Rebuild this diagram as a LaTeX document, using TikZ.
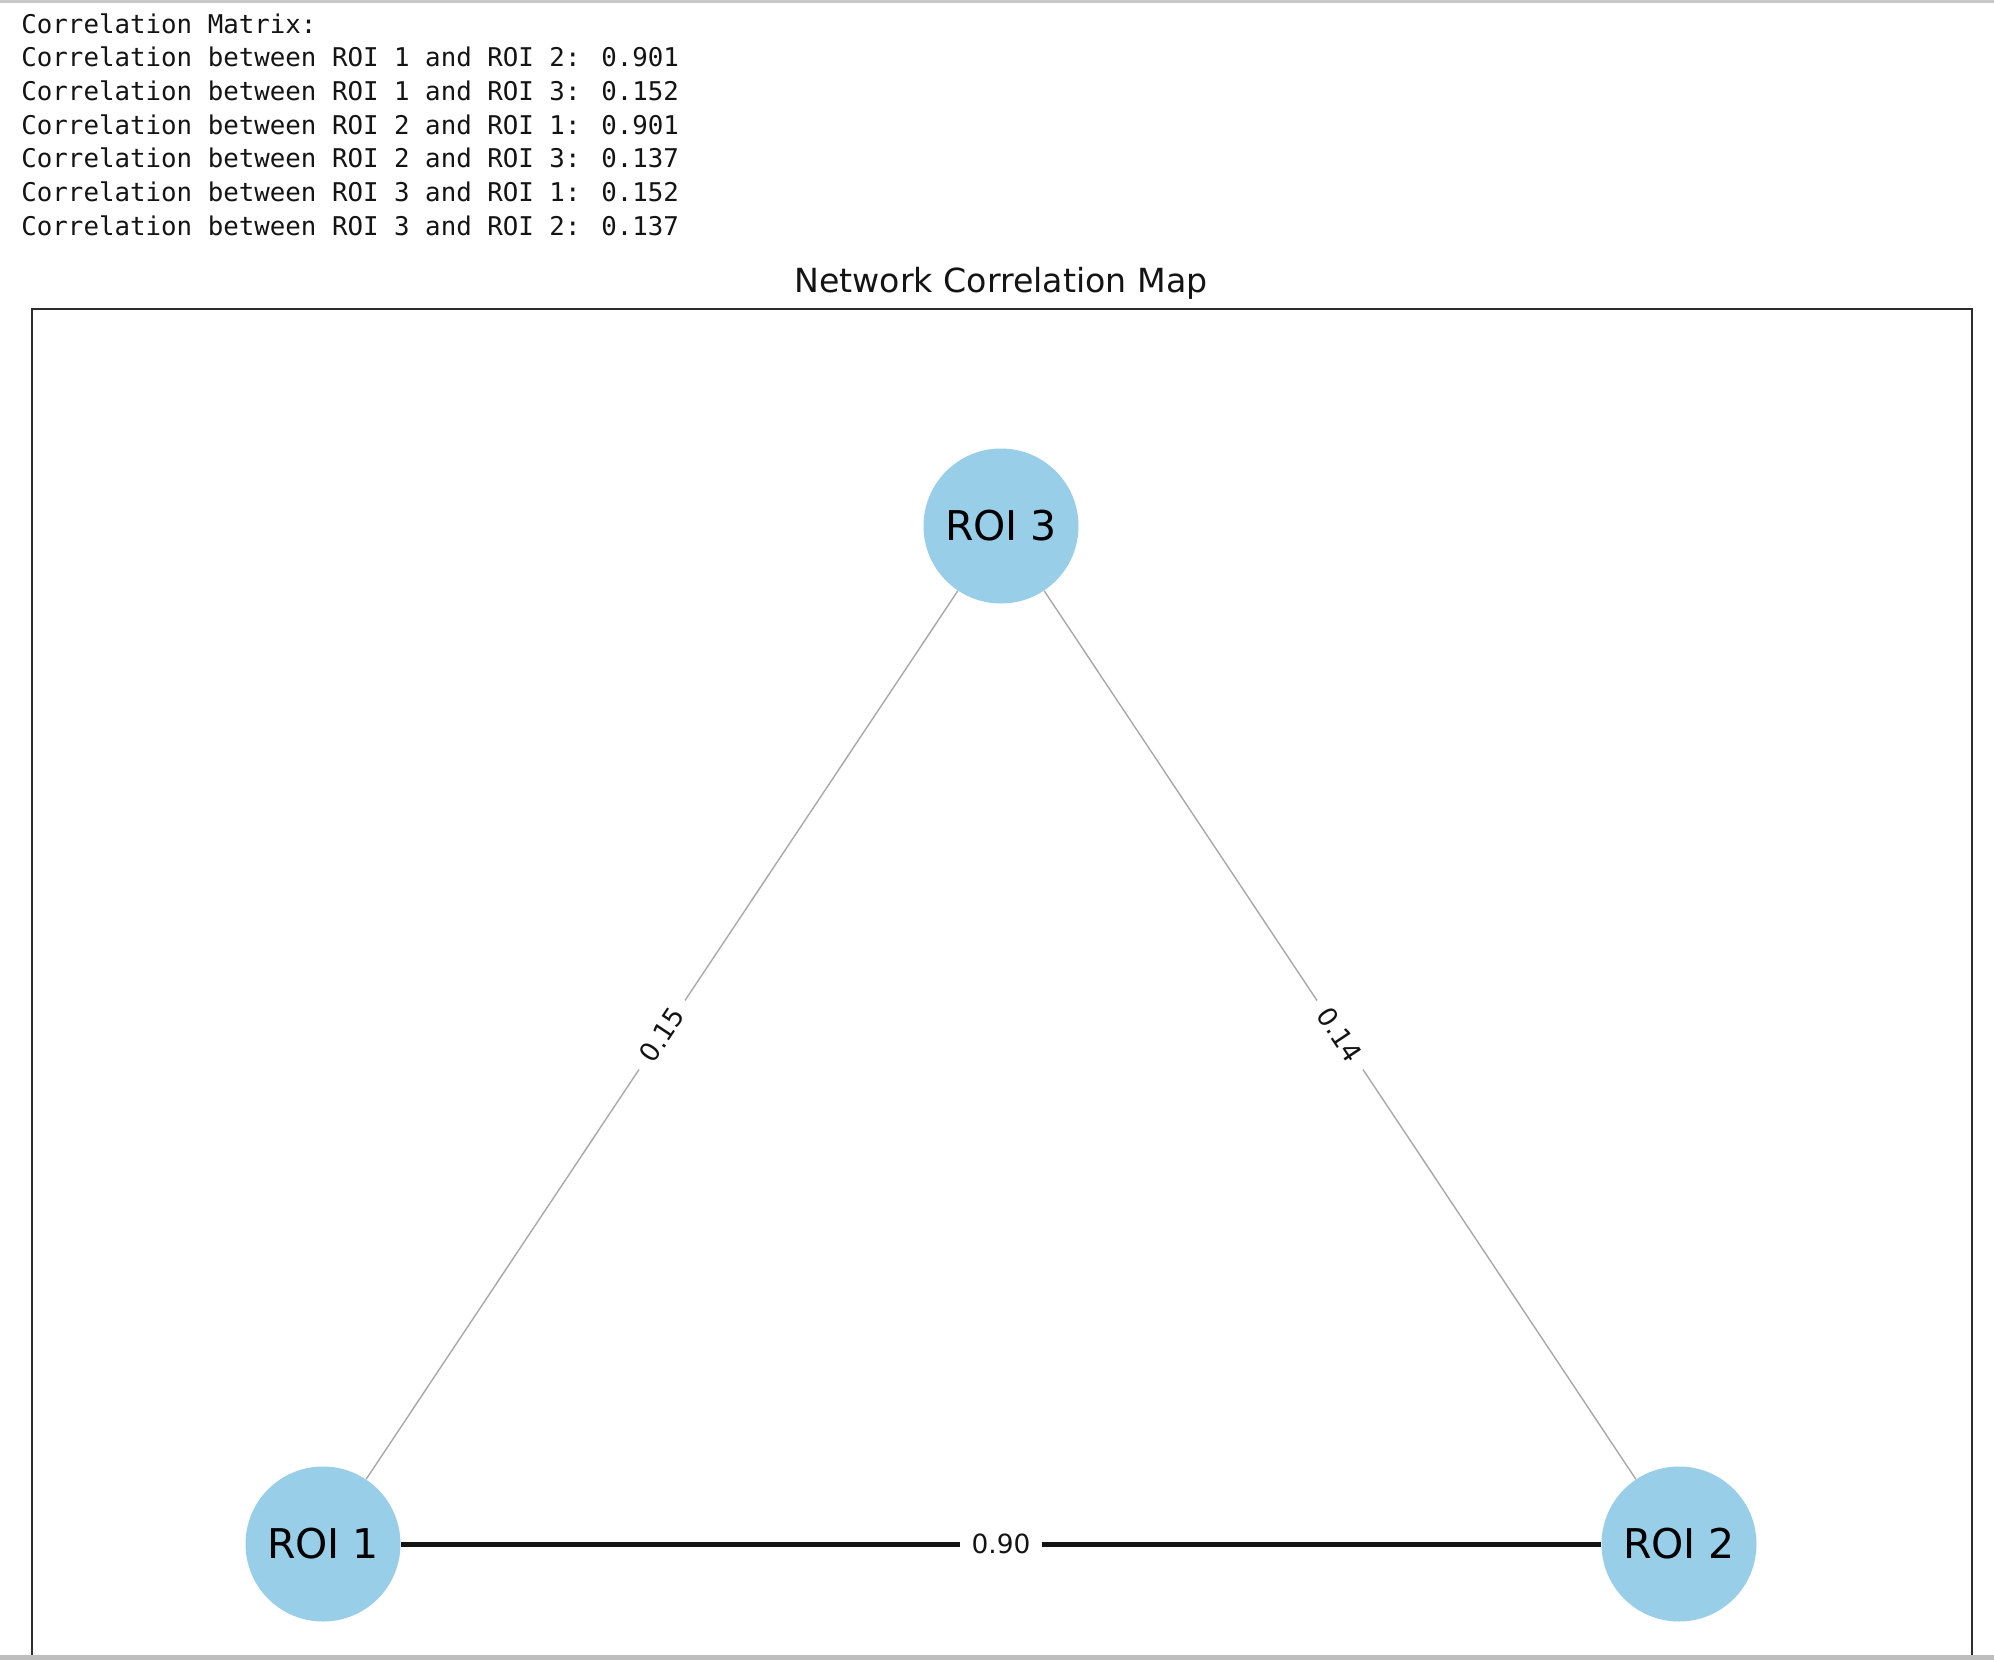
\documentclass[tikz,border=0pt]{standalone}
\usepackage{fontspec}
\setmainfont{DejaVu Sans}
\newfontfamily\monofont{DejaVu Sans Mono}
\definecolor{nodeblue}{RGB}{152,206,232}
\definecolor{thingray}{RGB}{168,168,168}
\definecolor{framecol}{RGB}{45,45,45}
\definecolor{textcol}{RGB}{20,20,20}
\definecolor{topgray}{RGB}{200,200,200}
\definecolor{botgray}{RGB}{190,190,190}
\tikzset{
  consoleline/.style={anchor=base west, inner sep=0pt, text=textcol, font=\monofont\fontsize{12.9}{15}\selectfont},
  roi/.style={circle, fill=nodeblue, minimum size=77.5pt, inner sep=0pt, text=black, font=\fontsize{20.5}{24}\selectfont},
  strongedge/.style={draw=textcol, line width=2.5pt},
  weakedge/.style={draw=thingray, line width=0.7pt},
  elabel/.style={fill=white, inner xsep=6pt, inner ysep=2pt, text=textcol, font=\fontsize{13.2}{15}\selectfont}
}
\begin{document}
\begin{tikzpicture}[x=0.5pt,y=-0.5pt]
\useasboundingbox (0,0) rectangle (1994,1660);
\fill[white] (0,0) rectangle (1994,1660);
\fill[topgray] (0,0) rectangle (1994,3);
% console text
\node[consoleline] (l0) at (21,33) {Correlation Matrix:};
\node[consoleline] (l1) at (21,66.7) {Correlation between ROI 1 and ROI 2: 0.901};
\node[consoleline] (l2) at (21,100.4) {Correlation between ROI 1 and ROI 3: 0.152};
\node[consoleline] (l3) at (21,134.1) {Correlation between ROI 2 and ROI 1: 0.901};
\node[consoleline] (l4) at (21,167.8) {Correlation between ROI 2 and ROI 3: 0.137};
\node[consoleline] (l5) at (21,201.5) {Correlation between ROI 3 and ROI 1: 0.152};
\node[consoleline] (l6) at (21,235.2) {Correlation between ROI 3 and ROI 2: 0.137};
% title
\node[anchor=base, inner sep=0pt, text=textcol, font=\fontsize{16.6}{20}\selectfont] (title) at (1001,292) {Network Correlation Map};
% frame
\draw[framecol, line width=1.25pt] (32,1660) -- (32,309) -- (1972,309) -- (1972,1660);
% nodes
\node[roi] (r1) at (323,1544) {ROI 1};
\node[roi] (r2) at (1679,1544) {ROI 2};
\node[roi] (r3) at (1001,526) {ROI 3};
% edges
\draw[strongedge] (r1) -- node[elabel] (e12) {0.90} (r2);
\draw[weakedge] (r1) -- node[elabel, sloped] (e13) {0.15} (r3);
\draw[weakedge] (r3) -- node[elabel, sloped] (e23) {0.14} (r2);
\fill[botgray] (0,1655) rectangle (1994,1660);
\end{tikzpicture}
\end{document}
